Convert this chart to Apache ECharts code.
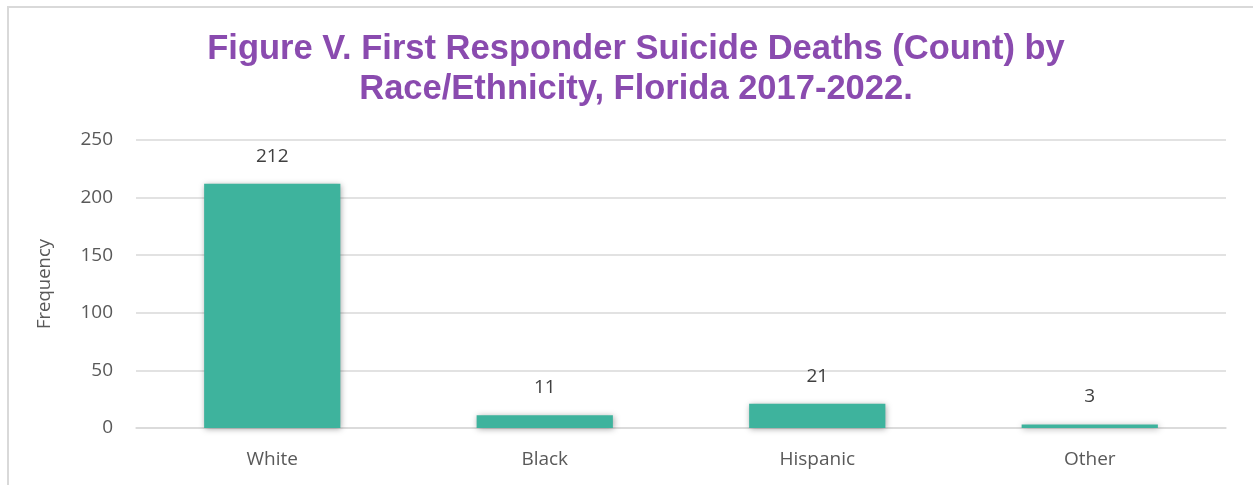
<!DOCTYPE html>
<html><head><meta charset="utf-8">
<script src="https://cdn.jsdelivr.net/npm/echarts@6/dist/echarts.min.js"></script>
<style>html,body{margin:0;padding:0;background:#fff}#c{width:1253px;height:485px}</style>
</head><body><div id="c"></div>
<script>
const categories = ['White', 'Black', 'Hispanic', 'Other'];
const values = [212, 11, 21, 3];
const yTicks = [0, 50, 100, 150, 200, 250];
const titleText = 'Figure V. First Responder Suicide Deaths (Count) by\nRace/Ethnicity, Florida 2017-2022.';

const chart = echarts.init(document.getElementById('c'));
chart.setOption({
  animation: false,
  graphic: [{
    type: 'rect', shape: {x: 8, y: 7, width: 1320, height: 520},
    style: {fill: 'none', stroke: '#d9d9d9', lineWidth: 2}, z: -1
  }],
  title: {
    text: titleText, left: 631, top: 24, textAlign: 'center',
    textStyle: {fontFamily: 'Liberation Sans', fontWeight: 'bold', fontSize: 34.5, color: '#8a4baf', lineHeight: 40}
  },
  grid: {left: 136, right: 27, top: 140, bottom: 57, containLabel: false},
  xAxis: {
    type: 'category', data: categories,
    axisLine: {lineStyle: {color: '#d9d9d9', width: 1.5}},
    axisTick: {show: false},
    axisLabel: {fontFamily: 'Open Sans', fontSize: 19, color: '#595959', margin: 22}
  },
  yAxis: {
    type: 'value', min: 0, max: 250, interval: 50,
    name: 'Frequency', nameLocation: 'middle', nameGap: 82, nameRotate: 90,
    nameTextStyle: {fontFamily: 'Open Sans', fontSize: 18.5, color: '#595959'},
    axisLine: {show: false}, axisTick: {show: false},
    axisLabel: {fontFamily: 'Open Sans', fontSize: 19, color: '#595959', margin: 23,
      formatter: v => yTicks.includes(v) ? String(v) : ''},
    splitLine: {lineStyle: {color: '#d9d9d9', width: 1.5}}
  },
  series: [{
    type: 'bar', data: values, barWidth: '50%',
    itemStyle: {color: '#3eb39d', shadowColor: 'rgba(0,0,0,0.35)', shadowBlur: 6, shadowOffsetX: 1, shadowOffsetY: 1},
    label: {show: true, position: 'top', distance: 18, fontFamily: 'Open Sans', fontSize: 19, color: '#404040'}
  }]
});
</script></body></html>
